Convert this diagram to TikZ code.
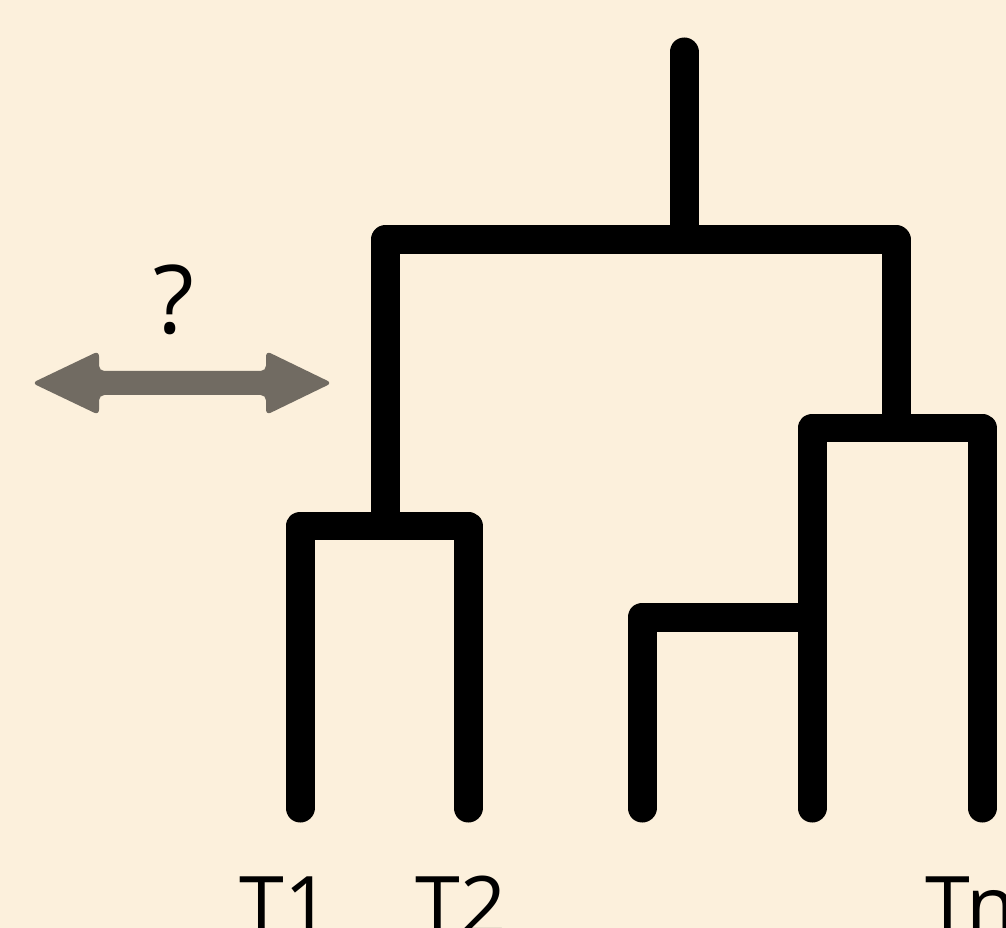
\documentclass[tikz,border=0pt]{standalone}
\usepackage{fontspec}
\setmainfont{Open Sans}
\definecolor{paper}{HTML}{FCF0DC}
\definecolor{ashgrey}{HTML}{716B62}

\begin{document}
\begin{tikzpicture}[x=0.02cm,y=-0.02cm,
    branch/.style={line width=0.58cm, line join=round, line cap=round},
    tiplabel/.style={anchor=base west, inner sep=0pt, font=\fontsize{46}{54}\selectfont},
    qlabel/.style={anchor=base, inner sep=0pt, font=\fontsize{54}{60}\selectfont}]
    \useasboundingbox (0,0) rectangle (1006,928);
    \fill [paper] (0,0) rectangle (1006,928);

    % Internal points of the tree
    \coordinate (rt) at (684,52);
    \coordinate (n0) at (684,240);
    \coordinate (n1) at (385,526);
    \coordinate (n2) at (896,428);
    \coordinate (n3) at (812,617);

    % Leaves
    \coordinate (l1) at (300,808);
    \coordinate (l2) at (468,808);
    \coordinate (l3) at (642,808);
    \coordinate (l4) at (812,808);
    \coordinate (l5) at (982,808);

    % Drawing the branches
    \draw [branch, shorten >=0.2cm] (rt) -- (n0);
    \draw [branch, shorten <=0.2cm, shorten >=0.2cm] (n1) |- (n0) -| (n2);
    \draw [branch] (l1) |- (n1) -| (l2);
    \draw [branch] (l4) |- (n2) -| (l5);
    \draw [branch, shorten >=0.2cm] (l3) |- (n3);

    % Double arrow with question mark
    \fill [ashgrey, rounded corners=3pt] (32,383) -- (99,351) -- (99,371) -- (266,371)
        -- (266,351) -- (332,383) -- (266,415) -- (266,395) -- (99,395) -- (99,415) -- cycle;
    \node [qlabel] (q) at (174,334) {?};

    % Tip labels
    \node [tiplabel] (t1) at (239,934) {T1};
    \node [tiplabel] (t2) at (415,934) {T2};
    \node [tiplabel] (tn) at (925,934) {Tn};
\end{tikzpicture}
\end{document}
